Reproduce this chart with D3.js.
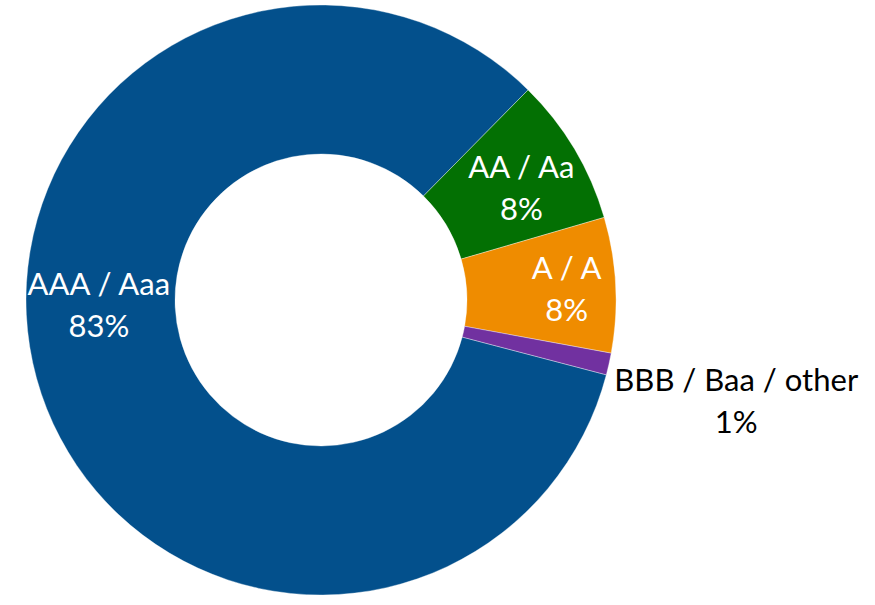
<!DOCTYPE html>
<html>
<head>
<meta charset="utf-8">
<script src="https://cdn.jsdelivr.net/npm/d3@7"></script>
<style>
  html, body { margin: 0; padding: 0; background: #ffffff; }
  svg { display: block; }
  text { font-family: Lato, "Liberation Sans", Arial, sans-serif; }
</style>
</head>
<body>
<svg id="chart" width="875" height="605"></svg>
<script>
// ---- data ----
const categories = ["AAA / Aaa", "AA / Aa", "A / A", "BBB / Baa / other"];
const values = [83.3, 8.1, 7.4, 1.2];
const valueLabels = ["83%", "8%", "8%", "1%"];

// ---- styling / layout (not data) ----
const colors = ["#03508C", "#037003", "#EF8C00", "#7131A0"];
const labelColors = ["#ffffff", "#ffffff", "#ffffff", "#000000"];
const labelShift = [[-9.5, -63], [11, -9], [25.5, -9.5], [200, 43]];

const W = 875, H = 605;
const cx = 321, cy = 300;
const outerR = 295, innerR = 146;
const startDeg = 104.7;

const svg = d3.select("#chart");
const g = svg.append("g").attr("transform", `translate(${cx},${cy})`);

const pie = d3.pie()
  .sort(null)
  .value(d => d.value)
  .startAngle(startDeg * Math.PI / 180)
  .endAngle((startDeg + 360) * Math.PI / 180);

const data = categories.map((c, i) => ({ cat: c, value: values[i], label: valueLabels[i], i }));
const arcs = pie(data);

const arc = d3.arc().innerRadius(innerR).outerRadius(outerR);

g.selectAll("path.slice")
  .data(arcs)
  .join("path")
  .attr("class", "slice")
  .attr("d", arc)
  .attr("fill", d => colors[d.data.i])
  .attr("stroke", "#ffffff")
  .attr("stroke-width", 0.6)
  .attr("stroke-opacity", 0.6);

const lineH = 42;
const labels = g.selectAll("text.lbl")
  .data(arcs)
  .join("text")
  .attr("class", "lbl")
  .attr("text-anchor", "middle")
  .attr("font-size", 31)
  .attr("fill", d => labelColors[d.data.i])
  .attr("transform", d => {
    const c = arc.centroid(d);
    const s = labelShift[d.data.i];
    return `translate(${c[0] + s[0]},${c[1] + s[1]})`;
  });

labels.append("tspan").attr("x", 0).attr("y", 0).text(d => d.data.cat);
labels.append("tspan").attr("x", 0).attr("y", lineH).text(d => d.data.label);
</script>
</body>
</html>
